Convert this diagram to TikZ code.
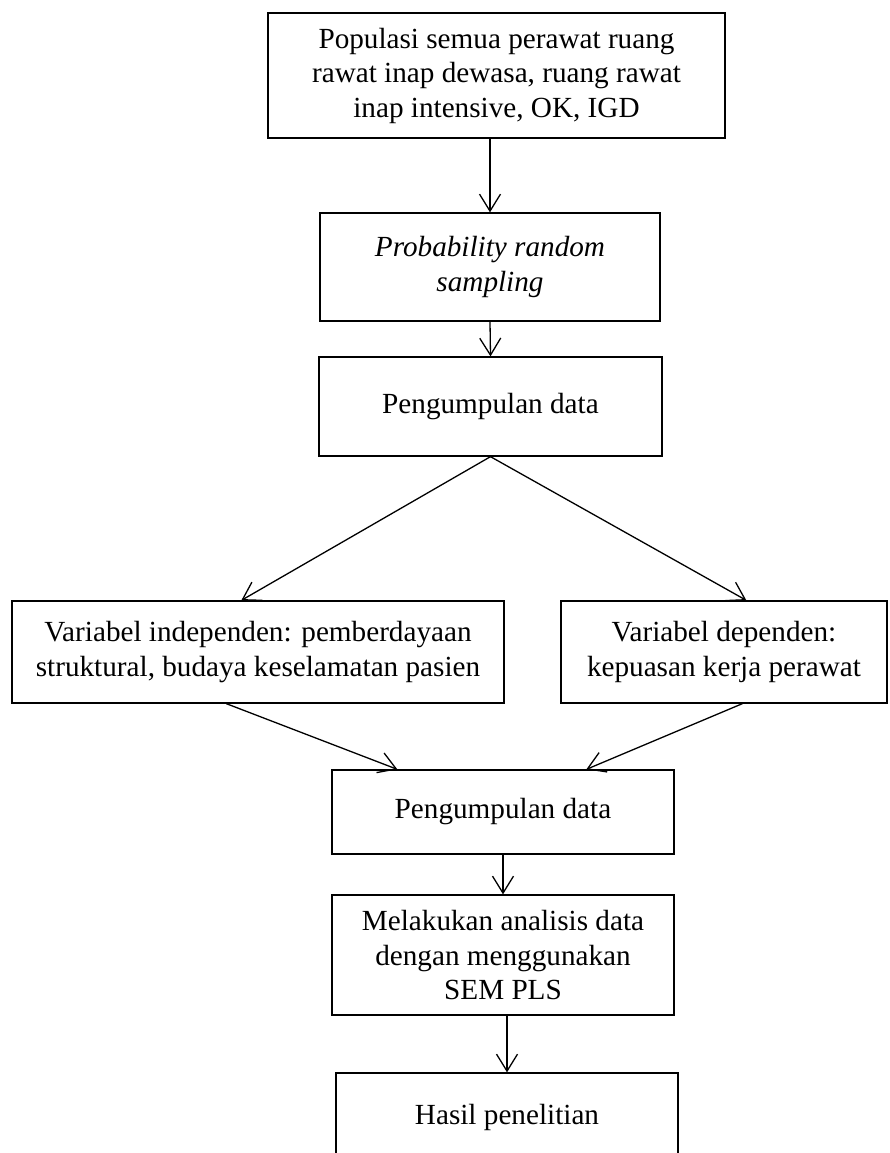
\documentclass[tikz,border=0pt]{standalone}
\usepackage{fontspec}
\setmainfont{Liberation Serif}
\usetikzlibrary{arrows.meta}
\begin{document}
\begin{tikzpicture}[x={(1pt,0)},y={(0,-1pt)},
  flowbox/.style={draw,line width=1.3pt,inner sep=0pt,align=center,
    font=\fontsize{29.2}{34.5}\selectfont},
  flowarrow/.style={line width=1.3pt,-{Straight Barb[length=17pt,width=21pt,line width=1.3pt]}},
  flowline/.style={line width=1.3pt}]
\useasboundingbox (0,0) rectangle (890,1153);
\clip (0,0) rectangle (890,1153);

\node[flowbox,minimum width=457pt,minimum height=125pt] (pop) at (496.5,75.5)
  {Populasi semua perawat ruang\\rawat inap dewasa, ruang rawat\\inap intensive, OK, IGD};
\node[flowbox,minimum width=340pt,minimum height=108pt] (prs) at (490,267)
  {\itshape Probability random\\\itshape sampling};
\node[flowbox,minimum width=343pt,minimum height=99pt] (pd1) at (490.5,406.5)
  {Pengumpulan data};
\node[flowbox,minimum width=492pt,minimum height=102pt] (vind) at (258,652)
  {Variabel independen: pemberdayaan\\struktural, budaya keselamatan pasien};
\node[flowbox,minimum width=326pt,minimum height=102pt] (vdep) at (724,652)
  {Variabel dependen:\\kepuasan kerja perawat};
\node[flowbox,minimum width=342pt,minimum height=84pt] (pd2) at (503,812)
  {Pengumpulan data};
\node[flowbox,minimum width=342pt,minimum height=120pt] (sem) at (503,955)
  {Melakukan analisis data\\dengan menggunakan\\SEM PLS};
\node[flowbox,minimum width=342pt,minimum height=88pt] (hasil) at (507,1117)
  {Hasil penelitian};

\draw[flowarrow] (pop.south -| prs.north) -- (prs.north);
\draw[flowarrow] (prs.south) -- (pd1.north);
\draw[flowarrow] (pd1.south) -- ([xshift=230pt]vind.north west);
\draw[flowarrow] (pd1.south) -- ([xshift=186pt]vdep.north west);
\draw[flowarrow] ([xshift=215pt]vind.south west) -- ([xshift=66pt]pd2.north west);
\draw[flowarrow] ([xshift=182pt]vdep.south west) -- ([xshift=255pt]pd2.north west);
\draw[flowarrow] (pd2.south) -- (pd2.south |- sem.north);
\draw[flowarrow] (sem.south -| hasil.north) -- (hasil.north);
\end{tikzpicture}
\end{document}
